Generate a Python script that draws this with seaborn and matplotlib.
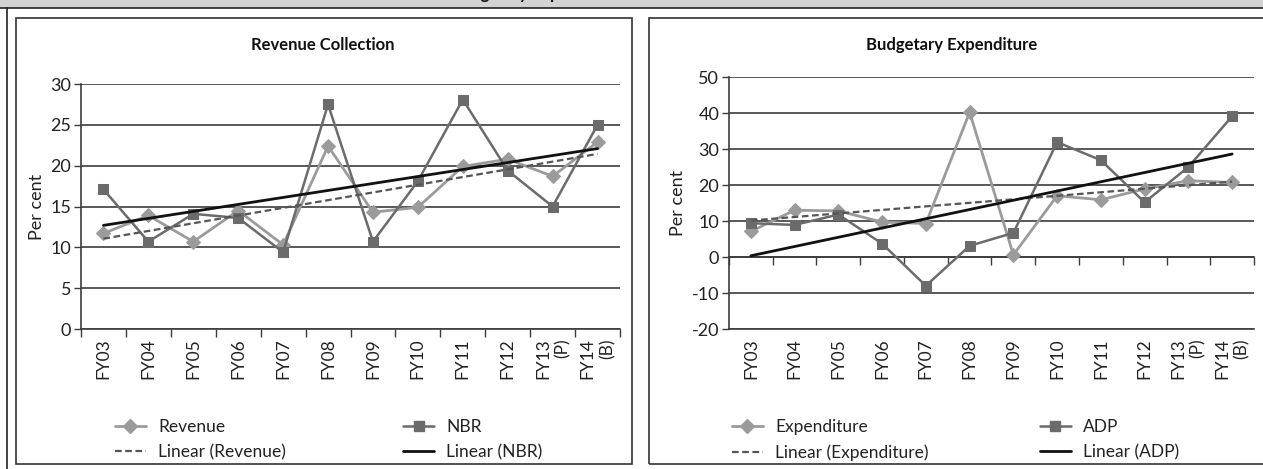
import numpy as np
import matplotlib
matplotlib.use("Agg")
import matplotlib.pyplot as plt
from matplotlib.patches import Rectangle
from matplotlib.lines import Line2D
import seaborn as sns

# data
years = ["FY03", "FY04", "FY05", "FY06", "FY07", "FY08", "FY09", "FY10",
         "FY11", "FY12", "FY13\n(P)", "FY14\n(B)"]
revenue = [11.7, 13.9, 10.7, 14.5, 10.3, 22.4, 14.3, 14.9, 19.9, 20.8, 18.7, 22.9]
nbr = [17.1, 10.7, 14.1, 13.6, 9.4, 27.5, 10.7, 18.1, 28.1, 19.4, 15.0, 25.0]
expenditure = [7.1, 13.0, 12.8, 9.7, 9.3, 40.2, 0.6, 17.0, 15.9, 18.9, 21.2, 20.7]
adp = [9.4, 8.9, 11.8, 3.7, -8.0, 3.1, 6.7, 31.9, 26.9, 15.2, 25.0, 39.1]

W, H = 1263, 469
LIGHT = "#9b9b9b"
DARK = "#6b6b6b"
GRID = "#3c3c3c"

sns.set_theme(style="white")
plt.rcParams["font.family"] = ["Lato", "DejaVu Sans"]
plt.rcParams["axes.unicode_minus"] = False

fig = plt.figure(figsize=(W / 100, H / 100), dpi=100)


def fx(px):
    return px / W


def fy(py):
    return 1 - py / H


def panel(ax, s1, s2, names, ylim, step, title, title_x, leg_x, colsp):
    x = np.arange(len(years))
    sns.lineplot(x=x, y=s1, ax=ax, color=LIGHT, lw=2, marker="D", markersize=7,
                 markeredgecolor=LIGHT, zorder=3)
    sns.lineplot(x=x, y=s2, ax=ax, color=DARK, lw=1.8, marker="s", markersize=6.5,
                 markeredgecolor=DARK, zorder=4)
    sns.regplot(x=x, y=s1, ax=ax, scatter=False, ci=None, truncate=True,
                line_kws=dict(color="#555555", lw=1.6, ls=(0, (3, 1.6)), zorder=5))
    sns.regplot(x=x, y=s2, ax=ax, scatter=False, ci=None, truncate=True,
                line_kws=dict(color="#111111", lw=2, zorder=6))
    ax.set_xlim(-0.5, len(years) - 0.5)
    ax.set_ylim(*ylim)
    ax.set_yticks(np.arange(ylim[0], ylim[1] + 1, step))
    ax.yaxis.grid(True, color=GRID, lw=1.2)
    ax.xaxis.grid(False)
    for s in ["top", "right"]:
        ax.spines[s].set_visible(False)
    ax.spines["left"].set_color(GRID)
    ax.spines["left"].set_linewidth(1.2)
    ax.spines["bottom"].set_color(GRID)
    ax.spines["bottom"].set_linewidth(1.2)
    ax.tick_params(axis="y", direction="out", length=5, width=1, color=GRID,
                   labelsize=13, labelcolor="#222222", left=True, pad=2)
    ax.set_xticks(x)
    ax.set_xticklabels(years, rotation=90, fontsize=12.5, color="#222222",
                       linespacing=1.25, multialignment="right")
    ax.tick_params(axis="x", which="major", length=0, pad=7)
    ax.set_ylabel("Per cent", fontsize=13, color="#222222", labelpad=4)
    ax.set_xlabel("")
    fig.text(fx(title_x), fy(45), title, fontsize=12, fontweight="bold",
             color="#111111", ha="center", va="center")

    bounds = np.arange(-0.5, len(years), 1.0)
    if ylim[0] < 0:
        sec = ax.secondary_xaxis((0 - ylim[0]) / (ylim[1] - ylim[0]))
        sec.set_xticks(bounds)
        sec.set_xticklabels([])
        sec.tick_params(direction="out", length=6, width=1, color=GRID)
        sec.spines["bottom"].set_color(GRID)
        sec.spines["bottom"].set_linewidth(1.2)
    else:
        ax.set_xticks(bounds, minor=True)
        ax.tick_params(axis="x", which="minor", direction="out", length=6,
                       width=1, color=GRID, bottom=True)

    handles = [
        Line2D([], [], color=LIGHT, lw=2, marker="D", markersize=7),
        Line2D([], [], color="#555555", lw=1.6, ls=(0, (3, 1.6))),
        Line2D([], [], color=DARK, lw=1.8, marker="s", markersize=6.5),
        Line2D([], [], color="#111111", lw=2),
    ]
    labels = [names[0], f"Linear ({names[0]})", names[1], f"Linear ({names[1]})"]
    fig.legend(handles, labels, ncol=2, frameon=False, fontsize=12.5,
               loc="upper left", bbox_to_anchor=(fx(leg_x), fy(403)),
               handlelength=1.8, handletextpad=0.7, columnspacing=colsp,
               labelspacing=0.55, labelcolor="#222222")


ax1 = fig.add_axes([fx(81), fy(329), fx(620) - fx(81), fy(84) - fy(329)])
panel(ax1, revenue, nbr, ["Revenue", "NBR"], (0, 30), 5, "Revenue Collection",
      323, 99, 6.75)

ax2 = fig.add_axes([fx(729), fy(329), fx(1254) - fx(729), fy(77) - fy(329)])
panel(ax2, expenditure, adp, ["Expenditure", "ADP"], (-20, 50), 10,
      "Budgetary Expenditure", 952, 716, 6.4)

# frames and header band
fig.add_artist(Rectangle((0, fy(8)), 1, 1 - fy(8), transform=fig.transFigure,
                         facecolor="#d3d3d3", edgecolor="none", zorder=0))
fig.add_artist(Line2D([0, 1], [fy(8), fy(8)], transform=fig.transFigure,
                      color="#222222", lw=1.2))
fig.add_artist(Line2D([fx(7), fx(7)], [0, fy(8)], transform=fig.transFigure,
                      color="#222222", lw=1.2))
for x0, x1 in [(16, 632), (649, 1275)]:
    fig.add_artist(Rectangle((fx(x0), fy(464)), fx(x1) - fx(x0), fy(18) - fy(464),
                             transform=fig.transFigure, facecolor="none",
                             edgecolor="#333333", lw=1.2))
# header title: only its descenders show inside the picture, as in the reference
fig.text(fx(272), fy(-1), "Revenue Collection and Budgetary Expenditure",
         fontsize=12, fontweight="bold", color="#111111", va="baseline")

fig.savefig("out.png", dpi=100)
